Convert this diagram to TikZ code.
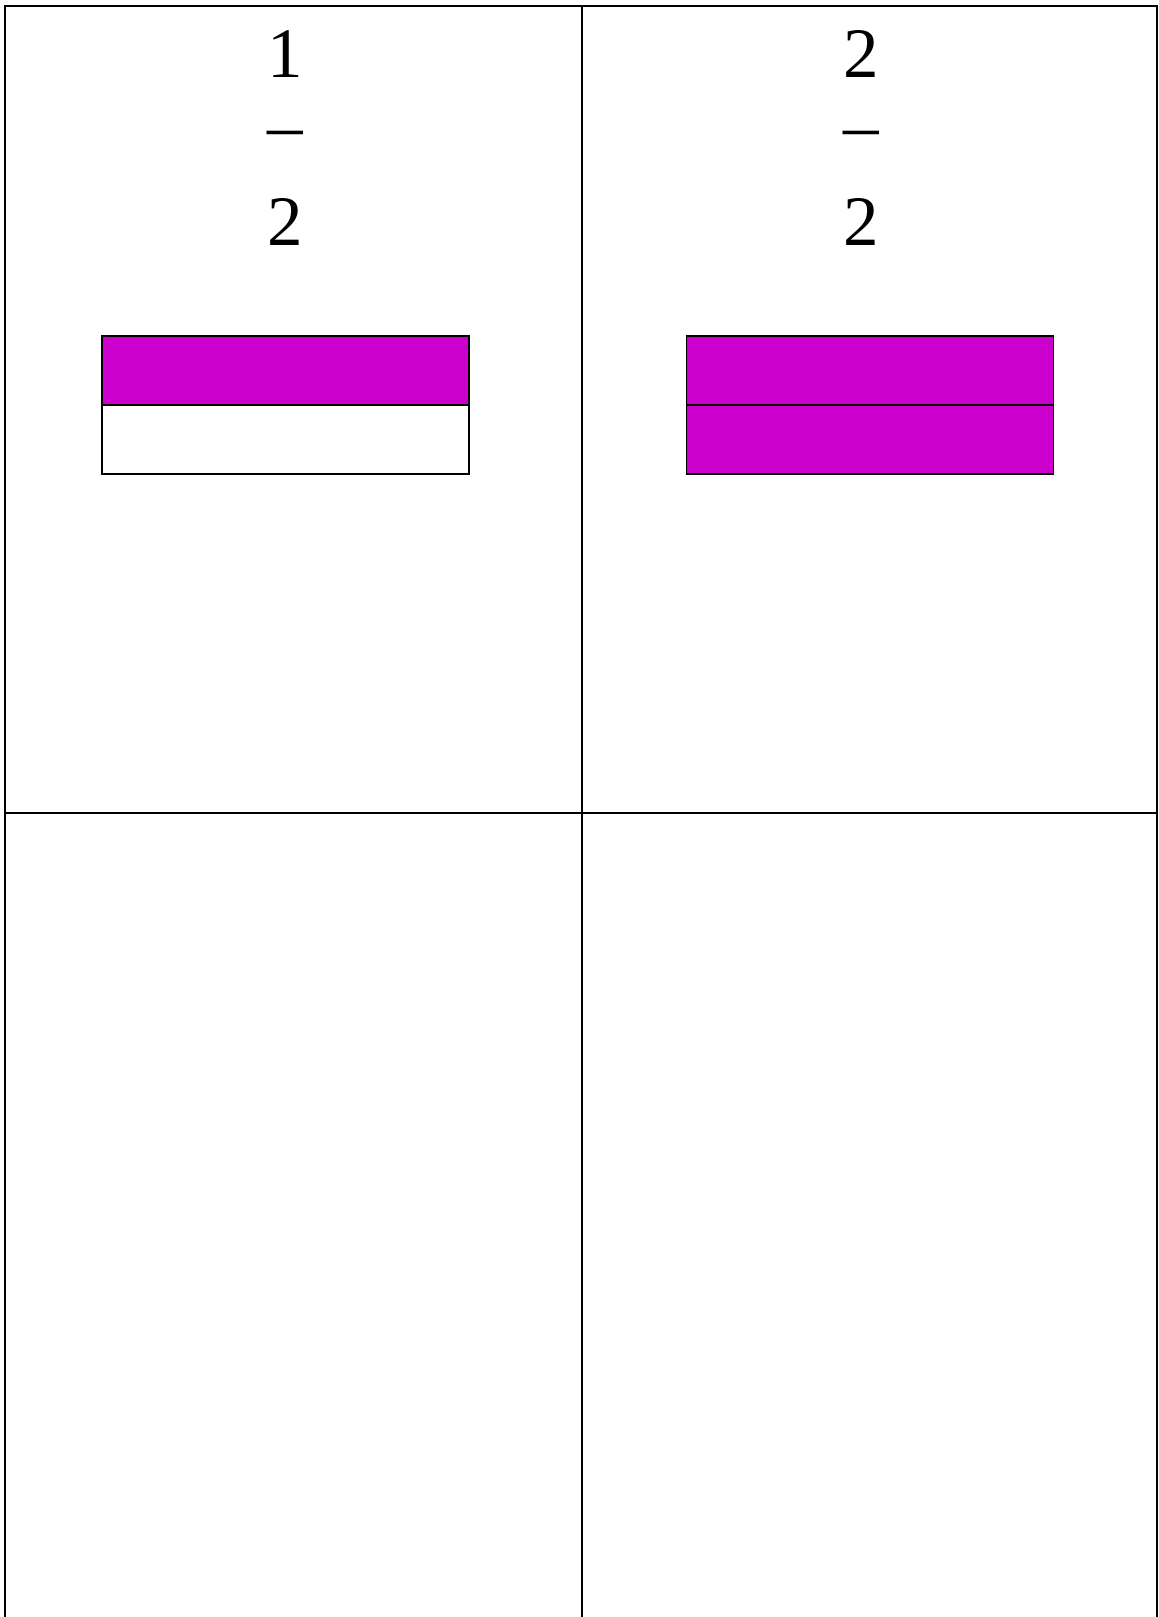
\documentclass[tikz,border=0pt]{standalone}
\usepackage{fontspec}
\setmainfont{Liberation Serif}
\usepackage{tikz}
\usetikzlibrary{positioning}
\definecolor{fmagenta}{HTML}{CC00CC}

\begin{document}
\begin{tikzpicture}[
  grid/.style={line width=1.4pt,black},
  part/.style={draw=black,line width=1.4pt,minimum width=9.175cm,minimum height=1.725cm,
               inner sep=0pt,outer sep=0pt},
  num/.style={font=\fontsize{50.5pt}{60pt}\selectfont,inner sep=0pt,anchor=base}]

\useasboundingbox (0,0) rectangle (28.975,40.425);

% ---- table lines (bottom row runs off the page) ----
\draw[grid] (0.125,0) -- (0.125,40.275) -- (28.925,40.275) -- (28.925,0);
\draw[grid] (14.56,0) -- (14.56,40.275);
\draw[grid] (0.125,20.11) -- (28.925,20.11);

% ---- left cell: one half ----
\node[num] (n1) at (7.125,38.475) {1};
\node[num] (d1) at (7.125,36.685) {–};
\node[num] (m1) at (7.125,34.275) {2};
\node[part,fill=fmagenta,anchor=north] (l1) at (7.1375,32.025) {};
\node[part,fill=white] (l2) [below=0pt of l1] {};

% ---- right cell: two halves ----
\node[num] (n2) at (21.525,38.475) {2};
\node[num] (d2) at (21.525,36.685) {–};
\node[num] (m2) at (21.525,34.275) {2};
\node[part,fill=fmagenta,anchor=north] (r1) at (21.75,32.025) {};
\node[part,fill=fmagenta] (r2) [below=0pt of r1] {};
\end{tikzpicture}
\end{document}
